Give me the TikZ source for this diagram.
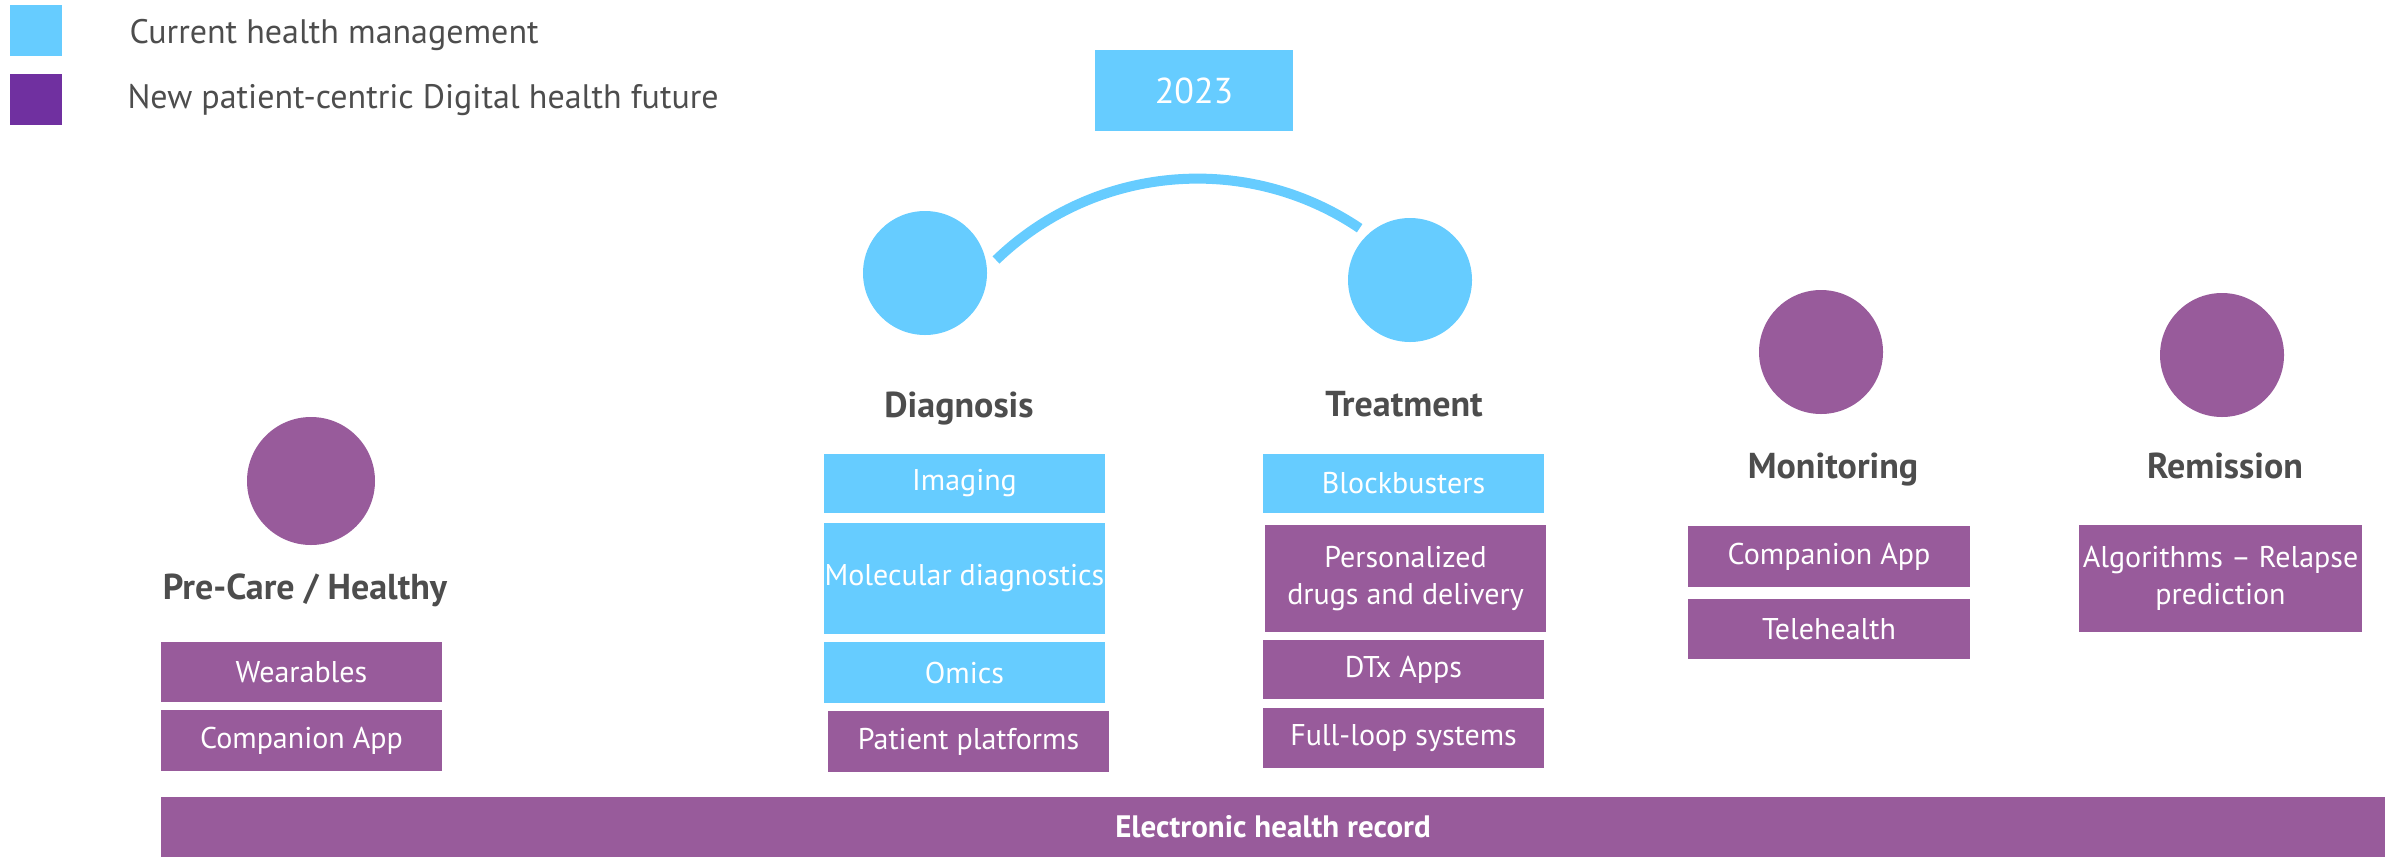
\documentclass[tikz,border=0pt]{standalone}
\usepackage{fontspec}
\setmainfont{PT Sans}
\usetikzlibrary{calc}
\definecolor{cblue}{HTML}{66CCFF}
\definecolor{cpurple}{HTML}{985B9B}
\definecolor{lpurple}{HTML}{7030A0}
\definecolor{tgray}{HTML}{4D4D4D}
\tikzset{
  boxbase/.style={rectangle, inner sep=0pt, text=white, align=center, font=\fontsize{30}{37}\selectfont},
  bluebox/.style={boxbase, fill=cblue},
  purplebox/.style={boxbase, fill=cpurple},
  stagecirc/.style={circle, inner sep=0pt, minimum size=124pt},
  stagelabel/.style={anchor=base, text=tgray, font=\fontsize{36}{40}\selectfont\bfseries},
  legtext/.style={anchor=base west, text=tgray, font=\fontsize{34}{38}\selectfont},
  arcline/.style={draw=cblue, line width=10pt, line cap=butt}
}
\begin{document}
\begin{tikzpicture}[x=1pt, y=-1pt]
\useasboundingbox (0,0) rectangle (2397,857);
% legend
\node[fill=cblue, minimum width=52pt, minimum height=51pt, inner sep=0pt] (legblue) at (36,30.5) {};
\node[fill=lpurple, minimum width=52pt, minimum height=51pt, inner sep=0pt] (legpurple) at (36,99.5) {};
\node[legtext] (legbluetext) at (126,43) {Current health management};
\node[legtext] (legpurpletext) at (124,108) {New patient-centric Digital health future};
% year
\node[bluebox, minimum width=198pt, minimum height=81pt, font=\fontsize{36}{40}\selectfont] (year) at (1194,90.5) {2023};
% circles
\node[stagecirc, fill=cpurple, minimum size=128pt] (pcirc) at (311,481) {};
\node[stagecirc, fill=cblue] (dcirc) at (925,273) {};
\node[stagecirc, fill=cblue] (tcirc) at (1410,280) {};
\node[stagecirc, fill=cpurple] (mcirc) at (1821,352) {};
\node[stagecirc, fill=cpurple] (rcirc) at (2222,355) {};
% arc
\coordinate (arcstart) at ($(dcirc.center)+(71,-13)$);
\draw[arcline] (arcstart) arc[start angle=134, end angle=56, radius=290pt] coordinate (arcend);
% labels
\node[stagelabel] (plabel) at (305,599) {Pre-Care / Healthy};
\node[stagelabel] (dlabel) at (959,417) {Diagnosis};
\node[stagelabel] (tlabel) at (1404,416) {Treatment};
\node[stagelabel] (mlabel) at (1833,478) {Monitoring};
\node[stagelabel] (rlabel) at (2225,478) {Remission};
% pre-care boxes
\node[purplebox, minimum width=281pt, minimum height=60pt] (wear) at (301.5,672) {Wearables};
\node[purplebox, minimum width=281pt, minimum height=61pt] (comp1) at (301.5,740.5) {Companion App};
% diagnosis boxes
\node[bluebox, minimum width=281pt, minimum height=59pt] (imag) at (964.5,483.5) {Imaging};
\node[bluebox, minimum width=281pt, minimum height=111pt] (molec) at (964.5,578.5) {Molecular diagnostics};
\node[bluebox, minimum width=281pt, minimum height=61pt] (omics) at (964.5,672.5) {Omics};
\node[purplebox, minimum width=281pt, minimum height=61pt] (ppl) at (968.5,741.5) {Patient platforms};
% treatment boxes
\node[bluebox, minimum width=281pt, minimum height=59pt] (block) at (1403.5,483.5) {Blockbusters};
\node[purplebox, minimum width=281pt, minimum height=107pt] (pers) at (1405.5,578.5) {Personalized\\drugs and delivery};
\node[purplebox, minimum width=281pt, minimum height=59pt] (dtx) at (1403.5,669.5) {DTx Apps};
\node[purplebox, minimum width=281pt, minimum height=60pt] (floop) at (1403.5,738) {Full-loop systems};
% monitoring boxes
\node[purplebox, minimum width=282pt, minimum height=61pt] (comp2) at (1829,556.5) {Companion App};
\node[purplebox, minimum width=282pt, minimum height=60pt] (tele) at (1829,629) {Telehealth};
% remission box
\node[purplebox, minimum width=283pt, minimum height=107pt] (algo) at (2220.5,578.5) {Algorithms – Relapse\\prediction};
% EHR bar
\node[purplebox, minimum width=2224pt, minimum height=60pt, font=\fontsize{31}{34}\selectfont\bfseries] (ehr) at (1273,827) {Electronic health record};
\end{tikzpicture}
\end{document}
